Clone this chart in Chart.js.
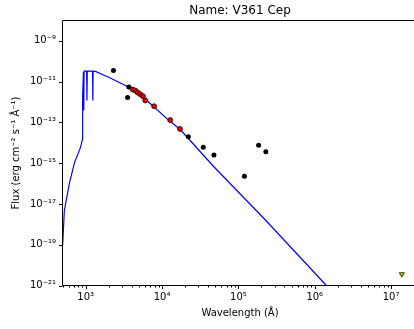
<!DOCTYPE html>
<html lang="en">
<head>
  <meta charset="UTF-8" />
  <title>SED V361 Cep</title>
  <script src="https://cdn.jsdelivr.net/npm/chart.js"></script>
  <style>
    html, body { margin: 0; padding: 0; background: #fff; overflow: hidden; }
    canvas { display: block; }
  </style>
</head>
<body>
  <canvas id="sed" width="414" height="329" style="width:414px;height:329px"></canvas>

  <script>
    // model spectrum (wavelength in Angstrom, flux in erg/cm2/s/A)
    const modelWave = [500, 526, 616, 716, 850, 911, 913, 935, 945, 952, 960, 1000, 1030, 1040, 1050, 1065, 1200, 1232, 1242, 1252, 1345, 1800, 2100, 3680, 5000, 6870, 12400, 17200, 47100, 229000, 1420000, 2000000];
    const modelFlux = [1e-19, 4.8e-18, 1.15e-16, 1.1e-15, 5.5e-15, 1.5e-14, 2e-12, 3e-11, 4e-13, 3e-11, 3.3e-11, 3.3e-11, 3.3e-11, 1.2e-12, 3.2e-11, 3.3e-11, 3.3e-11, 3.3e-11, 1.2e-12, 3.3e-11, 3.2e-11, 1.95e-11, 1.5e-11, 5.3e-12, 2.5e-12, 8.9e-13, 1.23e-13, 4.6e-14, 7.1e-16, 1.55e-18, 1e-21, 2.6e-22];

    // photometry
    const blackWave = [2312, 3540, 3680, 22100, 34700, 47800, 120000, 184000, 229000];
    const blackFlux = [3.5e-11, 1.65e-12, 5.5e-12, 2.0e-14, 6.0e-15, 2.5e-15, 2.3e-16, 7.6e-15, 3.6e-15];
    const redWave = [4150, 4500, 4810, 5210, 5630, 6040, 7890, 12800, 17200];
    const redFlux = [4.1e-12, 3.6e-12, 2.9e-12, 2.4e-12, 1.9e-12, 1.2e-12, 6.2e-13, 1.3e-13, 4.8e-14];
    const limitWave = [1.38e7];
    const limitFlux = [3.6e-21];

    // axes
    const xMajor = [1e3, 1e4, 1e5, 1e6, 1e7];
    const yMajor = [1e-21, 1e-19, 1e-17, 1e-15, 1e-13, 1e-11, 1e-9];

    const sup = { '-': '\u207B', '0': '\u2070', '1': '\u00B9', '2': '\u00B2', '3': '\u00B3', '4': '\u2074', '5': '\u2075', '6': '\u2076', '7': '\u2077', '8': '\u2078', '9': '\u2079' };
    function powLabel(v) {
      const e = String(Math.round(Math.log10(v)));
      return '10' + e.split('').map(c => sup[c]).join('');
    }
    const pts = (xs, ys) => xs.map((x, i) => ({ x, y: ys[i] }));

    Chart.defaults.font.family = "'DejaVu Sans', sans-serif";
    Chart.defaults.color = '#000';

    // spines (right one falls outside the picture), ticks and titles
    const frame = {
      id: 'frame',
      afterDatasetsDraw(chart) {
        const { ctx, chartArea: a, scales } = chart;
        const L = Math.floor(a.left) + 0.5;
        const T = Math.floor(a.top) + 0.5, B = Math.floor(a.bottom) + 0.5;
        ctx.save();
        ctx.strokeStyle = '#000';
        ctx.lineWidth = 1;
        ctx.beginPath();
        ctx.moveTo(chart.width, T); ctx.lineTo(L, T); ctx.lineTo(L, B); ctx.lineTo(chart.width, B);
        const xs = scales.x;
        for (let e = 2; e <= 7; e++) {
          for (let k = 1; k <= 9; k++) {
            const v = k * Math.pow(10, e);
            if (v < xs.min || v > xs.max) continue;
            const px = Math.round(xs.getPixelForValue(v)) + 0.5;
            const len = k === 1 ? 3.5 : 2;
            ctx.moveTo(px, B); ctx.lineTo(px, B + len);
          }
        }
        const ys = scales.y;
        yMajor.forEach(v => {
          const py = Math.round(ys.getPixelForValue(v)) + 0.5;
          ctx.moveTo(L, py); ctx.lineTo(L - 3.5, py);
        });
        ctx.stroke();
        ctx.fillStyle = '#000';
        ctx.textAlign = 'center';
        ctx.textBaseline = 'middle';
        ctx.font = "12px 'DejaVu Sans'";
        ctx.fillText('Name: V361 Cep', 240, 11);
        ctx.font = "10px 'DejaVu Sans'";
        ctx.fillText('Wavelength (\u00C5)', 240, 313);
        ctx.restore();
      }
    };

    new Chart(document.getElementById('sed'), {
      type: 'scatter',
      data: {
        datasets: [
          {
            data: pts(redWave, redFlux),
            backgroundColor: '#e00000', borderColor: '#000', borderWidth: 0.7,
            pointRadius: 2.5, order: 1
          },
          {
            data: pts(blackWave, blackFlux),
            backgroundColor: '#000', borderColor: '#000', borderWidth: 0,
            pointRadius: 2.5, order: 2
          },
          {
            data: pts(limitWave, limitFlux),
            backgroundColor: '#bfbf00', borderColor: '#000', borderWidth: 0.7,
            pointStyle: 'triangle', rotation: 180, pointRadius: 3, order: 0
          },
          {
            type: 'line',
            data: pts(modelWave, modelFlux),
            borderColor: '#0000ff', borderWidth: 1.2,
            pointRadius: 0, tension: 0, fill: false, order: 5
          }
        ]
      },
      options: {
        responsive: false,
        devicePixelRatio: 1,
        animation: false,
        events: [],
        layout: { padding: { top: 20.5, left: 0, right: 0, bottom: 0 } },
        plugins: { legend: { display: false }, title: { display: false }, tooltip: { enabled: false } },
        scales: {
          x: {
            type: 'logarithmic',
            min: 490, max: 1.73e7,
            bounds: 'data',
            grid: { display: false, drawTicks: false },
            border: { display: false },
            afterBuildTicks: s => { s.ticks = xMajor.map(v => ({ value: v })); },
            afterFit: s => { s.height = 43.5; s.paddingLeft = 0; s.paddingRight = 0; },
            ticks: {
              autoSkip: false, maxRotation: 0, padding: 6,
              font: { size: 10 },
              callback: v => powLabel(v)
            }
          },
          y: {
            type: 'logarithmic',
            min: 1e-21, max: 1e-8,
            bounds: 'data',
            grid: { display: false, drawTicks: false },
            border: { display: false },
            afterBuildTicks: s => { s.ticks = yMajor.map(v => ({ value: v })); },
            afterFit: s => { s.width = 62; s.paddingTop = 0; s.paddingBottom = 0; },
            ticks: {
              autoSkip: false, padding: 6,
              font: { size: 10 },
              callback: v => powLabel(v)
            },
            title: {
              display: true, text: 'Flux (erg cm\u207B\u00B2 s\u207B\u00B9 \u00C5\u207B\u00B9)',
              font: { size: 10 }, padding: { top: 10.5, bottom: 0 }
            }
          }
        }
      },
      plugins: [frame]
    });
  </script>
</body>
</html>
